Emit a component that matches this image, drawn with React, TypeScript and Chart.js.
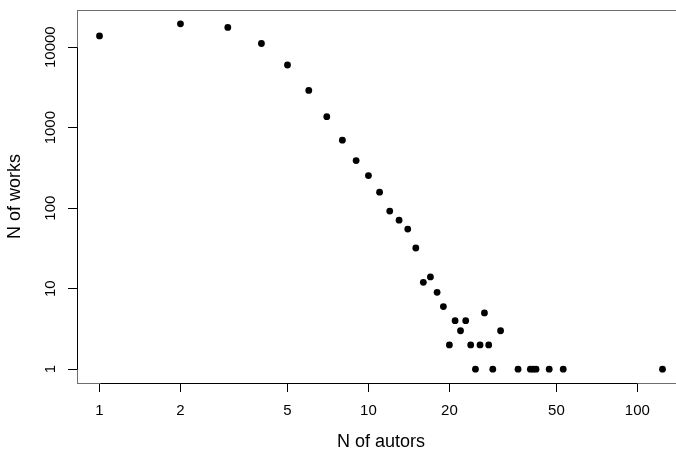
import React, { useEffect, useRef } from "react";
import { Chart, registerables } from "chart.js";

Chart.register(...registerables);

// Data
const nAuthors = [
  1, 2, 3, 4, 5, 6, 7, 8, 9, 10, 11, 12, 13, 14, 15, 16, 17, 18, 19, 20,
  21, 22, 23, 24, 25, 26, 27, 28, 29, 31, 36, 40, 41, 42, 47, 53, 124,
];
const nWorks = [
  13800, 19500, 17600, 11100, 6000, 2900, 1370, 700, 390, 254, 158, 92, 71,
  55, 32, 12, 14, 9, 6, 2, 4, 3, 4, 2, 1, 2, 5, 2, 1, 3, 1, 1, 1, 1, 1, 1, 1,
];
const xTickValues = [1, 2, 5, 10, 20, 50, 100];
const yTickValues = [1, 10, 100, 1000, 10000];
const xTitle = "N of autors";
const yTitle = "N of works";

const FONT = "'Liberation Sans', Arial, Helvetica, sans-serif";

const rBoxPlugin = {
  id: "rBox",
  afterDraw(chart: any) {
    const { ctx, chartArea } = chart;
    const xs = chart.scales.x;
    const ys = chart.scales.y;
    ctx.save();
    ctx.lineWidth = 1;
    // box
    ctx.strokeStyle = "#6e6e6e";
    const l = Math.round(chartArea.left) + 0.5;
    const r = Math.round(chartArea.right) + 0.5;
    const t = Math.round(chartArea.top) + 0.5;
    const b = Math.round(chartArea.bottom) + 0.5;
    ctx.strokeRect(l, t, r - l, b - t);
    // axis lines (from first to last tick)
    ctx.strokeStyle = "#000";
    ctx.beginPath();
    const x0 = Math.round(xs.getPixelForValue(xTickValues[0])) + 0.5;
    const x1 = Math.round(xs.getPixelForValue(xTickValues[xTickValues.length - 1])) + 0.5;
    ctx.moveTo(x0, b);
    ctx.lineTo(x1, b);
    const y0 = Math.round(ys.getPixelForValue(yTickValues[0])) + 0.5;
    const y1 = Math.round(ys.getPixelForValue(yTickValues[yTickValues.length - 1])) + 0.5;
    ctx.moveTo(l, y0);
    ctx.lineTo(l, y1);
    ctx.stroke();
    ctx.restore();
  },
};

export default function App() {
  const ref = useRef<HTMLCanvasElement | null>(null);

  useEffect(() => {
    if (!ref.current) return;
    const points = nAuthors.map((a, i) => ({ x: a, y: nWorks[i] }));
    const chart = new Chart(ref.current, {
      type: "scatter",
      data: {
        datasets: [
          {
            data: points,
            backgroundColor: "#000",
            borderWidth: 0,
            pointRadius: 3.4,
            pointHoverRadius: 3.4,
          },
        ],
      },
      options: {
        responsive: false,
        animation: false,
        events: [],
        layout: { padding: { left: 0, top: 10, right: 15, bottom: 0 } },
        plugins: {
          legend: { display: false },
          tooltip: { enabled: false },
        },
        scales: {
          x: {
            type: "logarithmic",
            position: "bottom",
            min: Math.pow(10, -0.0837),
            max: Math.pow(10, 2.1771),
            bounds: "data",
            afterBuildTicks: (s: any) => {
              s.ticks = xTickValues.map((v) => ({ value: v }));
            },
            afterFit: (s: any) => {
              s.height = 77;
            },
            grid: {
              drawOnChartArea: false,
              drawTicks: true,
              tickLength: 9,
              color: "#000",
              lineWidth: 1,
            },
            border: { display: false },
            ticks: {
              autoSkip: false,
              maxRotation: 0,
              minRotation: 0,
              padding: 10,
              color: "#000",
              font: { family: FONT, size: 15 },
              callback: (v: any) => String(v),
            },
            title: {
              display: true,
              text: xTitle,
              color: "#000",
              font: { family: FONT, size: 18 },
              padding: { top: 0, bottom: 7.5 },
            },
          },
          y: {
            type: "logarithmic",
            position: "left",
            min: Math.pow(10, -0.1716),
            max: Math.pow(10, 4.4616),
            bounds: "data",
            afterBuildTicks: (s: any) => {
              s.ticks = yTickValues.map((v) => ({ value: v }));
            },
            afterFit: (s: any) => {
              s.width = 77;
            },
            grid: {
              drawOnChartArea: false,
              drawTicks: true,
              tickLength: 9,
              color: "#000",
              lineWidth: 1,
            },
            border: { display: false },
            ticks: {
              autoSkip: false,
              minRotation: 90,
              maxRotation: 90,
              crossAlign: "center",
              padding: -4,
              color: "#000",
              font: { family: FONT, size: 15 },
              callback: (v: any) => String(v),
            },
            title: {
              display: true,
              text: yTitle,
              color: "#000",
              font: { family: FONT, size: 18 },
              padding: { top: 4.7, bottom: 0 },
            },
          },
        },
      },
      plugins: [rBoxPlugin],
    });
    return () => chart.destroy();
  }, []);

  return (
    <div
      style={{
        position: "fixed",
        left: 0,
        top: 0,
        width: 676,
        height: 449,
        overflow: "hidden",
        background: "#fff",
      }}
    >
      <canvas
        ref={ref}
        width={700}
        height={460}
        style={{ display: "block", width: 700, height: 460 }}
      />
    </div>
  );
}
